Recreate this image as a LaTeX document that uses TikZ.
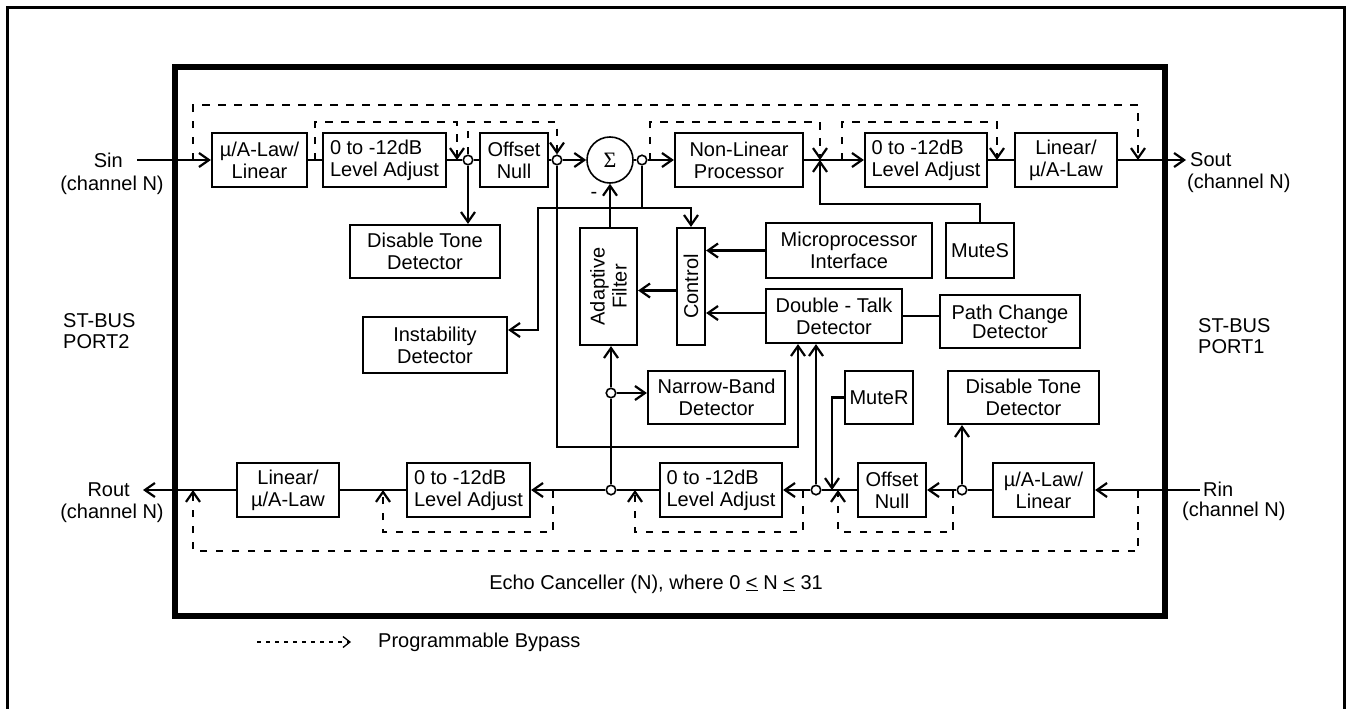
\documentclass[tikz,border=0pt]{standalone}
\usepackage{fontspec}
\setmainfont{Liberation Sans}
\newfontfamily\seriffont{Liberation Serif}
\usetikzlibrary{arrows.meta}
\newcommand\bxf{\fontsize{20}{22}\selectfont}
\begin{document}
\begin{tikzpicture}[x=1pt,y=-1pt,
  box/.style={draw,line width=2.2pt,inner sep=0pt,align=center,font=\bxf},
  lbl/.style={inner sep=0pt,font=\bxf,align=left},
  rtxt/.style={inner sep=0pt,font=\bxf,align=center,rotate=90},
  jn/.style={draw,circle,line width=1.6pt,minimum size=9.5pt,inner sep=0pt},
  wire/.style={line width=2.2pt},
  arr/.style={wire,-{Straight Barb[length=10pt,width=14pt]}},
  byp/.style={line width=2.2pt,dash pattern=on 7.5pt off 8.5pt,-{Straight Barb[length=10pt,width=14pt]}},
]
\useasboundingbox (0,0) rectangle (1347,709);
% frames
\draw[line width=3pt] (7,709) -- (7,8) -- (1344,8) -- (1344,709);
\draw[line width=5.5pt] (175,67) rectangle (1165,616);

% top row
\node[box,minimum width=95pt,minimum height=54pt] (mu1) at (259.5,160) {µ/A-Law/\\Linear};
\node[box,align=left,minimum width=123pt,minimum height=54pt] (la1) at (384.5,160) {0 to -12dB\\Level Adjust};
\node[box,minimum width=68pt,minimum height=54pt] (on1) at (514,160) {Offset\\Null};
\node[draw,circle,line width=1.6pt,minimum size=46pt,inner sep=0pt,font=\seriffont\fontsize{22}{22}\selectfont] (sigma) at (610,160) {Σ};
\node[box,minimum width=128pt,minimum height=54pt] (nlp) at (739,160) {Non-Linear\\Processor};
\node[box,align=left,minimum width=122pt,minimum height=54pt] (la2) at (926,160) {0 to -12dB\\Level Adjust};
\node[box,minimum width=102pt,minimum height=54pt] (lin1) at (1066,160) {Linear/\\µ/A-Law};

% middle boxes
\node[box,minimum width=150pt,minimum height=53pt] (dt1) at (425,251.5) {Disable Tone\\Detector};
\node[box,minimum width=166pt,minimum height=55pt] (mpi) at (849,250.5) {Microprocessor\\Interface};
\node[box,minimum width=68pt,minimum height=55pt] (mutes) at (980,250.5) {MuteS};
\node[box,minimum width=57pt,minimum height=117pt] (af) at (608.5,286.5) {};
\node[rtxt] at (af) {Adaptive\\Filter};
\node[box,minimum width=28pt,minimum height=117pt] (ctl) at (691,286.5) {};
\node[rtxt] at (ctl) {Control};
\node[box,minimum width=144pt,minimum height=56pt] (inst) at (435,345) {Instability\\Detector};
\node[box,minimum width=136pt,minimum height=54pt] (dtd) at (834,316) {Double - Talk\\Detector};
\node[box,minimum width=140pt,minimum height=53pt,font=\fontsize{20}{19}\selectfont] (pcd) at (1010,321.5) {Path Change\\Detector};
\node[box,minimum width=137pt,minimum height=53pt] (nbd) at (716.5,397.5) {Narrow-Band\\Detector};
\node[box,minimum width=68pt,minimum height=53pt] (mr) at (879,397.5) {MuteR};
\node[box,minimum width=151pt,minimum height=53pt] (dt2) at (1023.5,397.5) {Disable Tone\\Detector};

% bottom row
\node[box,minimum width=102pt,minimum height=54pt] (lin2) at (288,490) {Linear/\\µ/A-Law};
\node[box,align=left,minimum width=123pt,minimum height=54pt] (la4) at (468.5,490) {0 to -12dB\\Level Adjust};
\node[box,align=left,minimum width=122pt,minimum height=54pt] (la3) at (721,490) {0 to -12dB\\Level Adjust};
\node[box,minimum width=68pt,minimum height=54pt] (on2) at (892,490) {Offset\\Null};
\node[box,minimum width=101pt,minimum height=54pt] (mu2) at (1043.5,490) {µ/A-Law/\\Linear};

% junctions
\node[jn] (j1) at (468,160) {};
\node[jn] (j2) at (557,160) {};
\node[jn] (j3) at (642,160) {};
\node[jn] (j5) at (962,490) {};
\node[jn] (j6) at (816,490) {};
\node[jn] (j7) at (611,490) {};
\node[jn] (j8) at (611,393) {};

% port labels
\node[lbl,anchor=east] (sin) at (123,160) {Sin};
\node[lbl] (sinc) at (112,185) {(channel N)};
\node[lbl,anchor=west] (sout) at (1190,160) {Sout};
\node[lbl,anchor=west] (soutc) at (1187,183) {(channel N)};
\node[lbl,anchor=east] (rout) at (130,490) {Rout};
\node[lbl] (routc) at (112,513) {(channel N)};
\node[lbl,anchor=west] (rin) at (1203,489) {Rin};
\node[lbl,anchor=west] (rinc) at (1182,511) {(channel N)};
\node[lbl,anchor=west,font=\fontsize{20}{21}\selectfont] (p2) at (63,331) {ST-BUS\\PORT2};
\node[lbl,anchor=west,font=\fontsize{20}{21}\selectfont] (p1) at (1198,336) {ST-BUS\\PORT1};
\node[lbl] (ec) at (656,584) {Echo Canceller (N), where 0 \underline{<} N \underline{<} 31};
\node[lbl] (minus) at (594,195) {-};

% top signal path
\draw[arr,shorten <=14pt] (sin.east) -- (mu1.west);
\draw[wire] (mu1) -- (la1);
\draw[wire] (la1) -- (j1);
\draw[wire] (j1) -- (on1);
\draw[wire] (on1) -- (j2);
\draw[arr] (j2) -- (sigma);
\draw[wire] (sigma) -- (j3);
\draw[arr] (j3) -- (nlp);
\draw[arr] (nlp) -- (la2);
\draw[wire] (la2) -- (lin1);
\draw[arr,shorten >=4pt] (lin1.east) -- (lin1.east -| sout.west);

% top bypasses
\coordinate (bA) at (193,160);
\coordinate (bAt) at (193,105);
\coordinate (bB) at (1138,160);
\draw[byp] (bA) -- (bAt) -| (bB);
\coordinate (p1s) at (315,160);
\coordinate (p1t) at (315,122);
\coordinate (p1e) at (457,160);
\draw[byp] (p1s) -- (p1t) -| (p1e);
\draw[byp] (j1) -- (j1 |- p1t) -| (j2);
\coordinate (p3s) at (650,160);
\coordinate (p3t) at (650,122);
\coordinate (c4) at (820,160);
\draw[byp] (p3s) -- (p3t) -| (c4);
\coordinate (p4s) at (842,160);
\coordinate (p4t) at (842,122);
\coordinate (p4e) at (997,160);
\draw[byp] (p4s) -- (p4t) -| (p4e);
\draw[arr] (mutes.north) -- ++(0,-18) -| (c4);

% middle connections
\draw[arr] (j1) -- (j1 |- dt1.north);
\coordinate (k) at (642,208);
\coordinate (k4) at (538,208);
\draw[wire] (j3) -- (k);
\draw[arr] (k) -| (ctl.north);
\draw[arr] (k) -- (k4) |- ([yshift=15pt]inst.east);
\coordinate (k3) at (557,447);
\draw[arr] (j2) -- (k3) -| ([xshift=-36pt]dtd.south);
\draw[arr] (sigma |- af.north) -- (sigma);
\draw[arr] ([yshift=-4pt]ctl.west) -- ([yshift=-4pt]af.east);
\draw[arr] (mpi.west) -- (mpi.west -| ctl.east);
\draw[arr] ([yshift=3pt]dtd.west) -- ([yshift=3pt]dtd.west -| ctl.east);
\draw[wire] (dtd.east) -- (dtd.east -| pcd.west);
\draw[arr] (j8) -- (j8 -| nbd.west);
\draw[wire] (j7) -- (j8);
\draw[arr] (j8) -- (j8 |- af.south);
\draw[arr] (j6) -- (j6 |- dtd.south);
\draw[arr] (j5) -- (j5 |- dt2.south);
\coordinate (qm) at (832,490);
\draw[arr] (mr.west) -| (qm);

% bottom signal path
\coordinate (rinl) at (1200,490);
\draw[arr] (rinl) -- (rinl -| mu2.east);
\draw[wire] (mu2) -- (j5);
\draw[arr] (j5) -- (on2);
\draw[wire] (on2) -- (j6);
\draw[arr] (j6) -- (la3);
\draw[wire] (la3) -- (j7);
\draw[arr] (j7) -- (la4);
\draw[wire] (la4) -- (lin2);
\draw[arr,shorten >=13pt] (lin2.west) -- (rout.east);

% bottom bypasses
\coordinate (q0) at (1138,490);
\coordinate (q0b) at (1138,551);
\coordinate (q0e) at (193,490);
\draw[byp] (q0) -- (q0b) -| (q0e);
\coordinate (q1) at (953,490);
\coordinate (q1b) at (953,532);
\coordinate (q1e) at (838,490);
\draw[byp] (q1) -- (q1b) -| (q1e);
\coordinate (q2) at (803,490);
\coordinate (q2b) at (803,532);
\coordinate (q2e) at (635,490);
\draw[byp] (q2) -- (q2b) -| (q2e);
\coordinate (q3) at (553,490);
\coordinate (q3b) at (553,532);
\coordinate (q3e) at (383,490);
\draw[byp] (q3) -- (q3b) -| (q3e);

% legend
\coordinate (lg1) at (257,642);
\node[lbl,anchor=west] (pb) at (378,642) {Programmable Bypass};
\draw[line width=1.3pt,dash pattern=on 3.5pt off 5.5pt,-{Straight Barb[length=7pt,width=11pt]}] (lg1) -- ([xshift=-27pt]pb.west);
\end{tikzpicture}
\end{document}
